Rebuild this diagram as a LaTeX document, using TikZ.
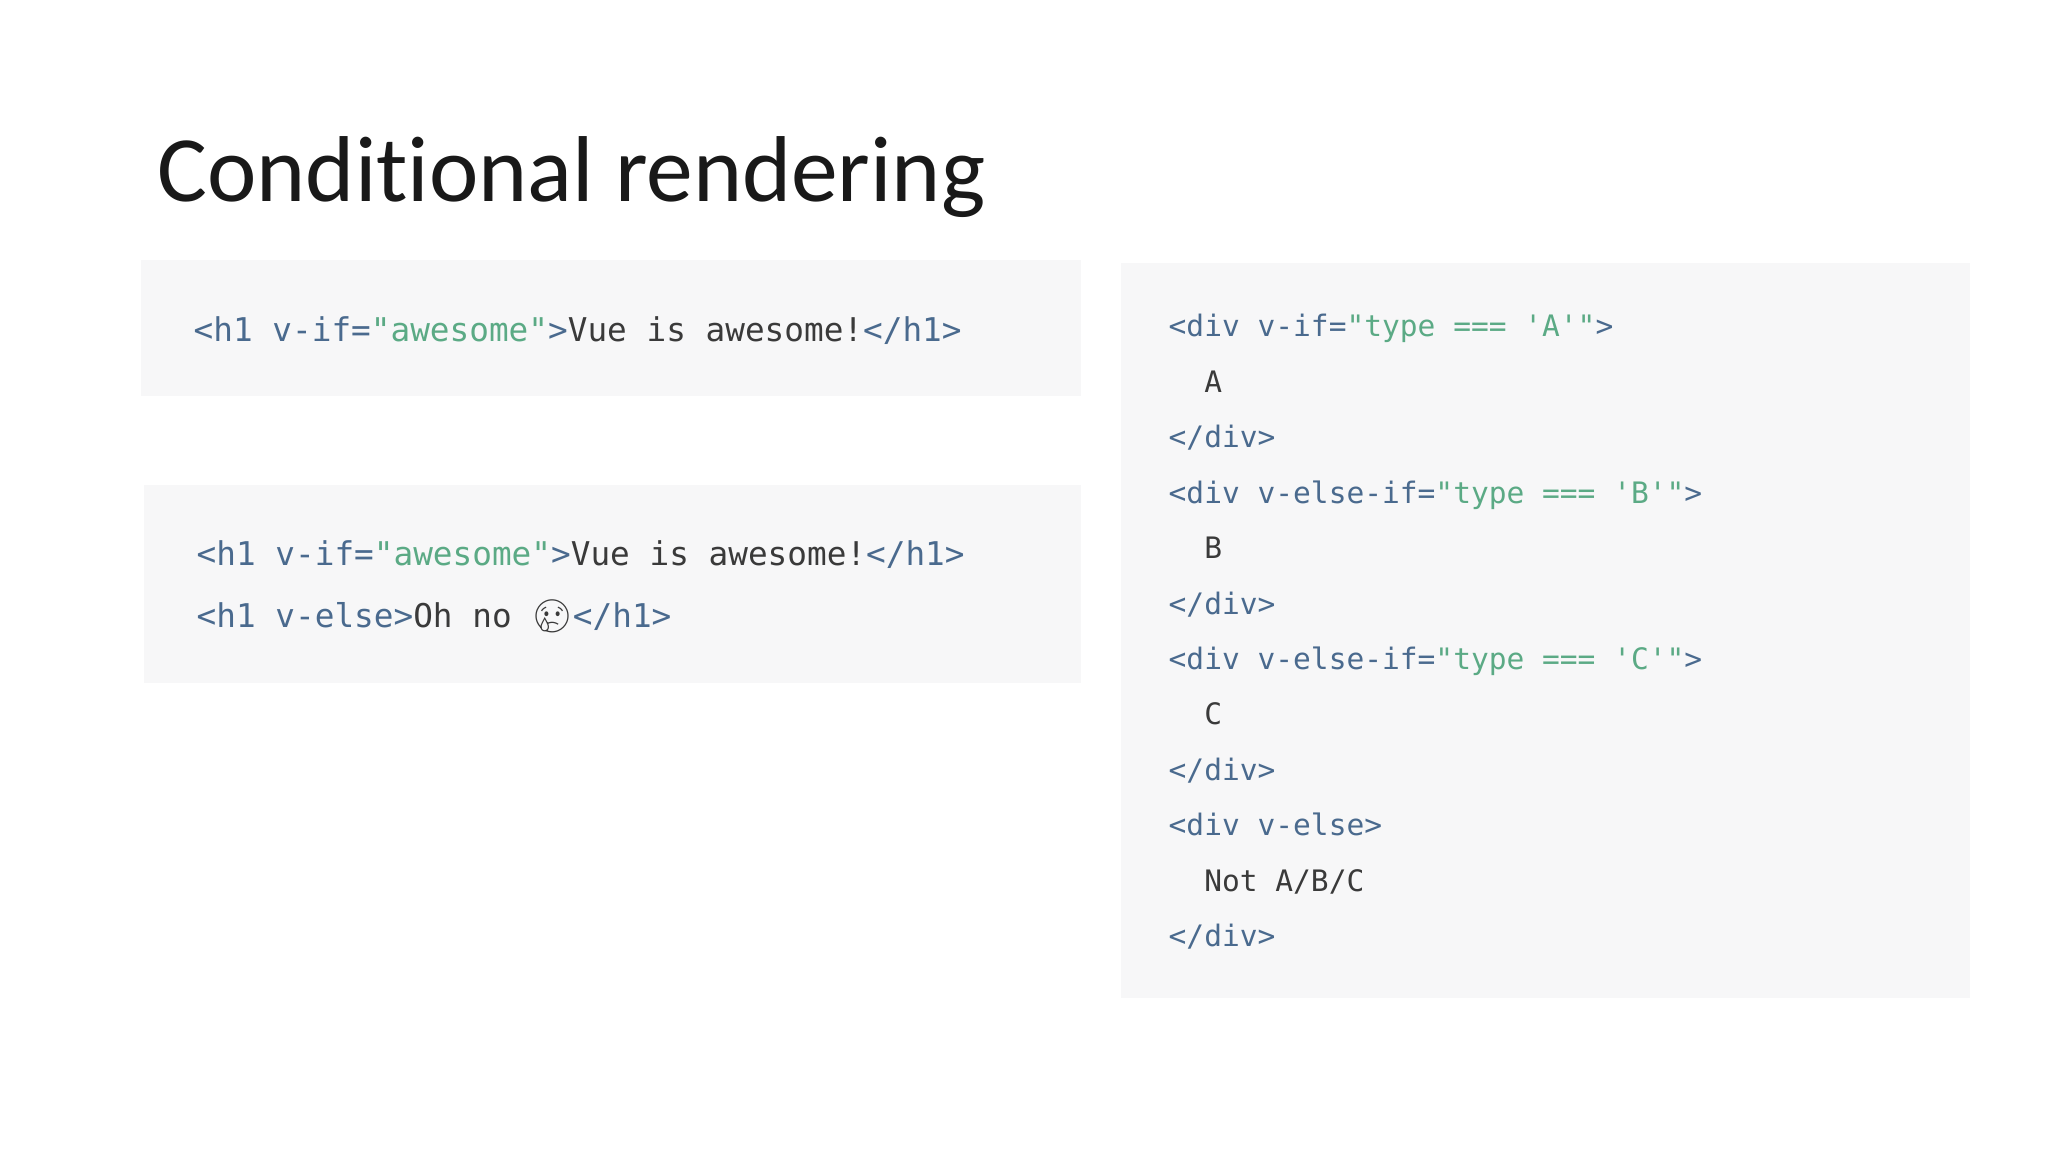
\documentclass[tikz,border=0pt]{standalone}
\usepackage{fontspec}
\setmainfont{Carlito}[Ligatures=NoCommon]
\setmonofont{DejaVu Sans Mono}
\newfontfamily\emojifont{Noto Emoji}
\usetikzlibrary{positioning}
\definecolor{codebg}{HTML}{F7F7F8}
\definecolor{tagblue}{HTML}{4A6A8E}
\definecolor{strgreen}{HTML}{5BAA85}
\definecolor{plaintxt}{HTML}{3A3A3A}
\newcommand{\tg}[1]{\textcolor{tagblue}{#1}}
\newcommand{\st}[1]{\textcolor{strgreen}{#1}}

\begin{document}
\begin{tikzpicture}[x=0.01cm,y=-0.01cm,
    codebox/.style={fill=codebg,draw=none},
    bigcode/.style={anchor=base west,inner sep=0pt,text=plaintxt,font=\ttfamily\fontsize{9.3pt}{11pt}\selectfont},
    smallcode/.style={anchor=base west,inner sep=0pt,text=plaintxt,font=\ttfamily\fontsize{8.4pt}{10pt}\selectfont}]
    \useasboundingbox[fill=white] (0,0) rectangle (2048,1152);
    % title
    \node[anchor=base west,inner sep=0pt,text=black!90,font=\fontsize{26.6pt}{32pt}\selectfont] (title) at (157,202) {Conditional rendering};
    % code panels
    \fill[codebox] (141,260) rectangle (1081,396);
    \fill[codebox] (144,485) rectangle (1081,683);
    \fill[codebox] (1121,263) rectangle (1970,998);
    % v-if
    \node[bigcode] (ifline) at (193,342) {\tg{<h1 v-if=}\st{"awesome"}\tg{>}Vue is awesome!\tg{</h1>}};
    % v-else
    \node[bigcode] (ifline2) at (196,565) {\tg{<h1 v-if=}\st{"awesome"}\tg{>}Vue is awesome!\tg{</h1>}};
    \node[bigcode] (elseline) at (196,627) {\tg{<h1 v-else>}Oh no {\emojifont 😢}\tg{</h1>}};
    % v-else-if chain
    \node[smallcode] (l1) at (1168,337) {\tg{<div v-if=}\st{"type === 'A'"}\tg{>}};
    \node[smallcode] (l2) at (1168,392.4) {\ \ A};
    \node[smallcode] (l3) at (1168,447.8) {\tg{</div>}};
    \node[smallcode] (l4) at (1168,503.2) {\tg{<div v-else-if=}\st{"type === 'B'"}\tg{>}};
    \node[smallcode] (l5) at (1168,558.6) {\ \ B};
    \node[smallcode] (l6) at (1168,614) {\tg{</div>}};
    \node[smallcode] (l7) at (1168,669.4) {\tg{<div v-else-if=}\st{"type === 'C'"}\tg{>}};
    \node[smallcode] (l8) at (1168,724.8) {\ \ C};
    \node[smallcode] (l9) at (1168,780.2) {\tg{</div>}};
    \node[smallcode] (l10) at (1168,835.6) {\tg{<div v-else>}};
    \node[smallcode] (l11) at (1168,891) {\ \ Not A/B/C};
    \node[smallcode] (l12) at (1168,946.4) {\tg{</div>}};
\end{tikzpicture}
\end{document}
